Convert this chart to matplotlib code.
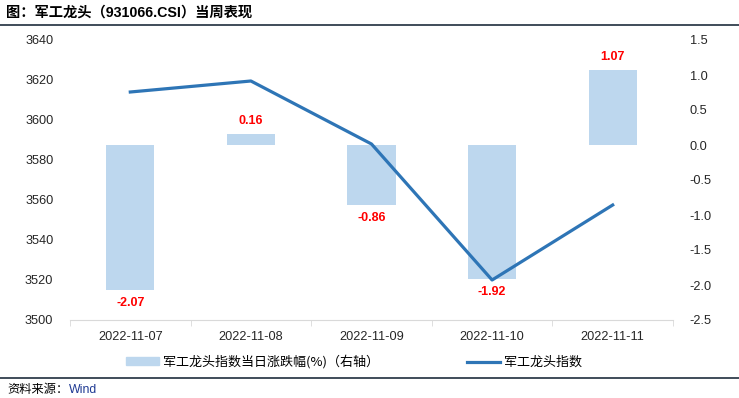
import matplotlib
matplotlib.use("Agg")
import matplotlib.pyplot as plt
from matplotlib.lines import Line2D
import numpy as np

plt.rcParams['font.family'] = ['Liberation Sans', 'Noto Sans CJK SC', 'DejaVu Sans']

dates = ["2022-11-07", "2022-11-08", "2022-11-09", "2022-11-10", "2022-11-11"]
pct_change = [-2.07, 0.16, -0.86, -1.92, 1.07]
index_close = [3614.0, 3619.5, 3588.0, 3520.0, 3557.5]

title = "图：军工龙头（931066.CSI）当周表现"
bar_label = "军工龙头指数当日涨跌幅(%)（右轴）"
line_label = "军工龙头指数"
source = "资料来源："

bar_color = "#BDD7EE"
line_color = "#2E75B6"
rule_color = "#1F2D3D"
cjk = ['Noto Sans CJK SC', 'DejaVu Sans']

fig = plt.figure(figsize=(7.39, 3.98), dpi=100)
ax = fig.add_axes([70/739, 1-320/398, (673-70)/739, (320-40)/398])
ax2 = ax.twinx()

x = np.arange(len(dates))
ax2.bar(x, pct_change, width=0.4, color=bar_color, zorder=1)
for xi, v in zip(x, pct_change):
    if v >= 0:
        ax2.text(xi, v + 0.1, f"{v:.2f}", ha="center", va="bottom", color="#FF0000",
                 fontsize=9, fontweight="bold")
    else:
        ax2.text(xi, v - 0.1, f"{v:.2f}", ha="center", va="top", color="#FF0000",
                 fontsize=9, fontweight="bold")

ax.set_zorder(ax2.get_zorder() + 1)
ax.patch.set_visible(False)
ax.plot(x, index_close, color=line_color, lw=2.3, zorder=3)

ax.set_ylim(3500, 3640)
ax.set_yticks(np.arange(3500, 3641, 20))
ax2.set_ylim(-2.5, 1.5)
ax2.set_yticks(np.arange(-2.5, 1.51, 0.5))
ax2.set_yticklabels([f"{t:.1f}" for t in np.arange(-2.5, 1.51, 0.5)])
ax.set_xlim(-0.5, len(dates) - 0.5)
ax.set_xticks(x)
ax.set_xticklabels(dates)
ax.set_xticks(np.arange(-0.5, len(dates), 1.0), minor=True)

for a in (ax, ax2):
    for s in ("top", "left", "right"):
        a.spines[s].set_visible(False)
    a.spines["bottom"].set_color("#D9D9D9")
ax2.spines["bottom"].set_visible(False)

ax.tick_params(axis="y", length=0, labelsize=9.2, colors="#262626", pad=12)
ax2.tick_params(axis="y", length=0, labelsize=9.2, colors="#262626", pad=12)
ax.tick_params(axis="x", which="major", length=0, labelsize=9.2, colors="#262626", pad=8)
ax.tick_params(axis="x", which="minor", length=4, color="#D9D9D9")

# title and rules
fig.text(6/739, 1-13/398, title, fontsize=10.3, fontweight="bold", va="center", ha="left",
         color="#000000")
fig.add_artist(Line2D([0, 1], [1-25/398, 1-25/398], color=rule_color, lw=1.2))
fig.add_artist(Line2D([0, 1], [1-378/398, 1-378/398], color=rule_color, lw=1.2))

# legend
handles = [plt.Rectangle((0, 0), 1, 1, color=bar_color),
           Line2D([0], [0], color=line_color, lw=2.3)]
fig.legend(handles, [bar_label, line_label], loc="center left",
           bbox_to_anchor=(126/739, 1-362/398), ncol=2, frameon=False,
           prop={'family': cjk, 'size': 9.4}, columnspacing=6.8, handlelength=2.5,
           handleheight=0.6, handletextpad=0.3, borderpad=0, borderaxespad=0)

fig.text(7/739, 1-390/398, source, fontsize=8.8, va="center", ha="left", color="#000000",
         family=cjk)
fig.text(69/739, 1-390/398, "Wind", fontsize=8.8, va="center", ha="left", color="#1F3A93")

fig.savefig("out.png", dpi=100)
